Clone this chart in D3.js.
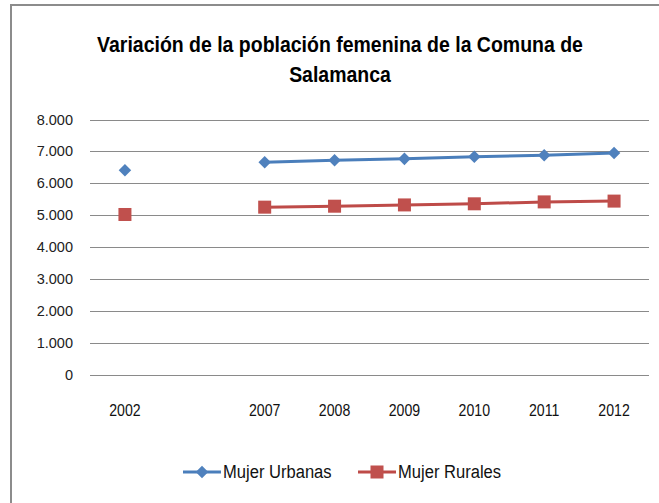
<!DOCTYPE html>
<html>
<head>
<meta charset="utf-8">
<script src="https://d3js.org/d3.v7.min.js"></script>
<style>
  body { margin: 0; background: #fff; }
  svg { display: block; }
</style>
</head>
<body>
<svg width="659" height="503"></svg>
<script>
"use strict";

// categories (the blank one is an empty slot between 2002 and 2007)
var years = ["2002", "", "2007", "2008", "2009", "2010", "2011", "2012"];
var urbanas = [6410, null, 6660, 6725, 6765, 6830, 6880, 6950];
var rurales = [5020, null, 5250, 5280, 5320, 5355, 5415, 5440];
var yTicks = [0, 1000, 2000, 3000, 4000, 5000, 6000, 7000, 8000];
var titleLines = ["Variación de la población femenina de la Comuna de", "Salamanca"];
var seriesNames = ["Mujer Urbanas", "Mujer Rurales"];

var sans = "'Liberation Sans', Arial, sans-serif";
var svg = d3.select("svg");

// squeeze text horizontally so Arial metrics look closer to Calibri
function narrow(sel, k) {
    sel.each(function() {
        var w = this.getComputedTextLength();
        if (w > 0) d3.select(this).attr("textLength", w * k).attr("lengthAdjust", "spacingAndGlyphs");
    });
}

// outer chart frame (only left and top edges are visible)
svg.append("path")
    .attr("d", "M11,503V5H659")
    .attr("fill", "none")
    .attr("stroke", "#8c8c8c")
    .attr("stroke-width", 2);

var x = d3.scaleBand().domain(d3.range(years.length)).range([90, 649]);
var y = d3.scaleLinear().domain([0, 8000]).range([374.5, 119.5]);

var fmt = d3.formatLocale({decimal: ",", thousands: ".", grouping: [3], currency: ["$", ""]}).format(",d");

// title
svg.append("g").selectAll("text")
    .data(titleLines).enter().append("text")
    .attr("x", 340)
    .attr("y", (d, i) => 52 + i * 30)
    .attr("text-anchor", "middle")
    .attr("font-family", sans)
    .attr("font-weight", "bold")
    .attr("font-size", 22)
    .attr("fill", "#000")
    .text(d => d)
    .call(narrow, 0.885);

// gridlines
svg.append("g").selectAll("line")
    .data(yTicks).enter().append("line")
    .attr("x1", 90).attr("x2", 649)
    .attr("y1", d => Math.round(y(d)) + 0.5)
    .attr("y2", d => Math.round(y(d)) + 0.5)
    .attr("stroke", "#8a8a8a")
    .attr("stroke-width", 1);

// y labels
svg.append("g").selectAll("text")
    .data(yTicks).enter().append("text")
    .attr("x", 73)
    .attr("y", d => y(d) + 5)
    .attr("text-anchor", "end")
    .attr("font-family", sans)
    .attr("font-size", 14.5)
    .attr("fill", "#222")
    .text(d => fmt(d));

// x labels
svg.append("g").selectAll("text")
    .data(years).enter().append("text")
    .attr("x", (d, i) => x(i) + x.bandwidth() / 2)
    .attr("y", 416)
    .attr("text-anchor", "middle")
    .attr("font-family", sans)
    .attr("font-size", 17)
    .attr("fill", "#111")
    .text(d => d)
    .call(narrow, 0.83);

var cx = i => x(i) + x.bandwidth() / 2;
var line = d3.line()
    .defined(d => d != null)
    .x((d, i) => cx(i))
    .y(d => y(d));

var blue = "#4a7ebb", blueMark = "#4f81bd";
var red = "#be4b48", redMark = "#c0504d";

svg.append("path").datum(urbanas)
    .attr("d", line).attr("fill", "none")
    .attr("stroke", blue).attr("stroke-width", 3);
svg.append("path").datum(rurales)
    .attr("d", line).attr("fill", "none")
    .attr("stroke", red).attr("stroke-width", 3);

var diamond = d3.symbol().type(d3.symbolDiamond2).size(100);

svg.append("g").selectAll("path")
    .data(urbanas.map((v, i) => [v, i]).filter(d => d[0] != null)).enter()
    .append("path")
    .attr("d", diamond)
    .attr("transform", d => "translate(" + cx(d[1]) + "," + y(d[0]) + ")")
    .attr("fill", blueMark);

svg.append("g").selectAll("rect")
    .data(rurales.map((v, i) => [v, i]).filter(d => d[0] != null)).enter()
    .append("rect")
    .attr("x", d => cx(d[1]) - 6.5)
    .attr("y", d => y(d[0]) - 6.5)
    .attr("width", 13).attr("height", 13)
    .attr("fill", redMark);

// legend
var legend = svg.append("g").attr("transform", "translate(0,472)");
var lx = [183, 358];
seriesNames.forEach(function(name, i) {
    var g = legend.append("g").attr("transform", "translate(" + lx[i] + ",0)");
    g.append("line").attr("x1", 0).attr("x2", 38)
        .attr("stroke", i ? red : blue).attr("stroke-width", 3);
    if (i) {
        g.append("rect").attr("x", 12.5).attr("y", -6.5).attr("width", 13).attr("height", 13).attr("fill", redMark);
    } else {
        g.append("path").attr("d", diamond).attr("transform", "translate(19,0)").attr("fill", blueMark);
    }
    g.append("text").attr("x", 40).attr("y", 6)
        .attr("font-family", sans)
        .attr("font-size", 18)
        .attr("fill", "#111")
        .text(name)
        .call(narrow, 0.92);
});
</script>
</body>
</html>
